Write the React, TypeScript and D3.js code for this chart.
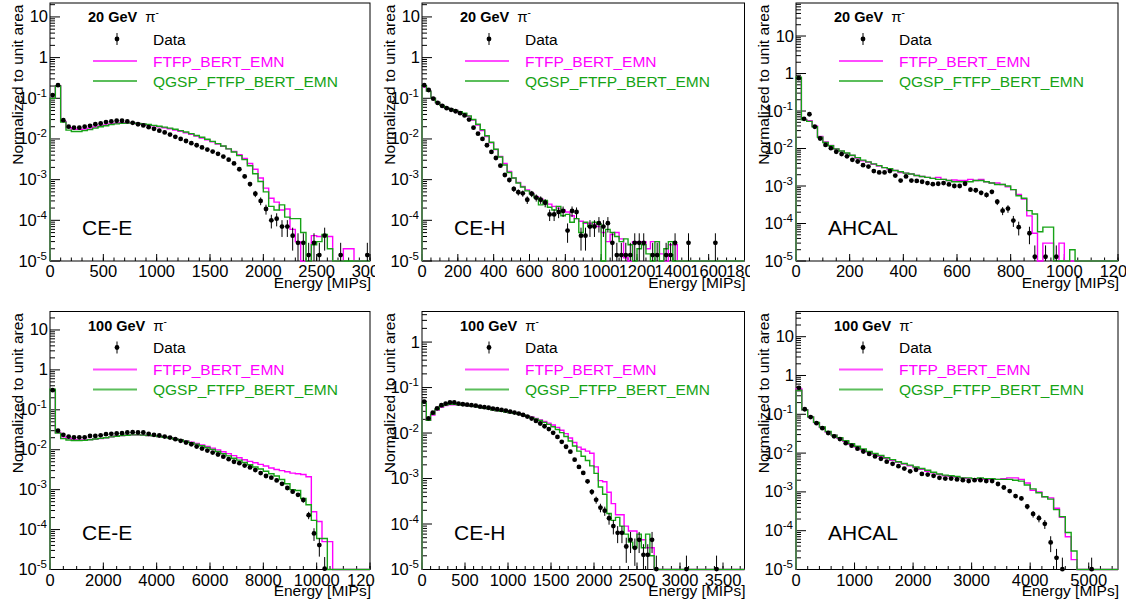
import React from "react";
import * as d3 from "d3";

// ---------------- data ----------------
// 20 GeV pi-, CE-E : bins of 50 MIPs starting at 0
const ceE20Data = [0.12, 0.21, 0.029, 0.020, 0.019, 0.019, 0.020, 0.021, 0.023, 0.024,
  0.026, 0.027, 0.028, 0.028, 0.027, 0.025, 0.023, 0.0215, 0.0195, 0.0178,
  0.016, 0.0145, 0.0128, 0.0113, 0.0100, 0.0089, 0.0079, 0.0070, 0.0062, 0.0055,
  0.0049, 0.0043, 0.0037, 0.0031, 0.0025, 0.0018, 0.0012, 0.00078, 0.00045, 0.00030,
  0.00019, 0.0001, 0.00011, 0.00007, 0.00007, 0.000042, 0.000028, 0.000028, 0.000014, 0.000028,
  0.000014, 0.000042, 0, 0, 0.000014, 0, 0, 0, 0, 0.000014];
const ceE20Err = [0, 0, 0, 0, 0, 0, 0, 0, 0, 0,
  0, 0, 0, 0, 0, 0, 0, 0, 0, 0,
  0, 0, 0, 0, 0, 0, 0, 0, 0, 0,
  0, 0, 0, 0, 0, 0, 0.00013, 0.000104, 0.000079, 0.000065,
  0.000052, 0.000037, 0.000039, 0.000031, 0.000031, 0.000024, 0.00002, 0.00002, 0.000014, 0.00002,
  0.000014, 0.000024, 0, 0, 0.000014, 0, 0, 0, 0, 0.000014];
const ceE20Ftfp = [0.10, 0.20, 0.027, 0.019, 0.0175, 0.0172, 0.0175, 0.0185, 0.0197, 0.021,
  0.0222, 0.0233, 0.0243, 0.025, 0.0252, 0.0248, 0.024, 0.023, 0.022, 0.021,
  0.020, 0.0189, 0.0178, 0.0166, 0.0154, 0.0142, 0.013, 0.0118, 0.0106, 0.0095,
  0.0085, 0.0075, 0.0066, 0.0057, 0.0049, 0.0041, 0.0033, 0.0025, 0.0018, 0.0011,
  0.00062, 0.00035, 0.00028, 0.00018, 0.00019, 0.00006, 0.00003, 0, 0, 0.000042,
  0.00004, 0.000042, 0.00004, 0, 0, 0.00002, 0.00002, 0, 0, 0];
const ceE20Qgsp = [0.10, 0.20, 0.026, 0.0165, 0.0153, 0.0153, 0.016, 0.017, 0.0185, 0.020,
  0.0212, 0.0225, 0.0235, 0.0242, 0.0245, 0.0245, 0.0242, 0.0235, 0.0226, 0.0216,
  0.0206, 0.0196, 0.0185, 0.0173, 0.016, 0.0148, 0.0135, 0.0122, 0.011, 0.0098,
  0.0087, 0.0077, 0.0067, 0.0057, 0.0048, 0.0039, 0.0031, 0.0022, 0.0014, 0.0009,
  0.0005, 0.00022, 0.00018, 0.00024, 0.00012, 0.00011, 0.00011, 0.00005, 0, 0.000025,
  0.00003, 0.000045, 0.00002, 0, 0, 0, 0, 0, 0, 0];

// 20 GeV pi-, CE-H : bins of 25 MIPs
const ceH20Data = [0.21, 0.16, 0.098, 0.077, 0.065, 0.057, 0.052, 0.048, 0.043, 0.038,
  0.030, 0.019, 0.0135, 0.0100, 0.0070, 0.0048, 0.0034, 0.0022, 0.0013, 0.00098,
  0.00059, 0.00049, 0.00046, 0.00032, 0.00045, 0.00036, 0.00032, 0.00027, 0.00014, 0.00014,
  0.00016, 0.00017, 0.000056, 0.00017, 0.00016, 0.000042, 0.000042, 0.00007, 0.00007, 0.000085,
  0.00007, 0.000085, 0.000028, 0.000014, 0.000014, 0.000014, 0.000014, 0.000028, 0.000028, 0.000028,
  0, 0.000014, 0.000014, 0, 0.000014, 0.000014, 0.000028, 0, 0, 0.000028,
  0, 0, 0, 0, 0, 0.000028, 0, 0, 0, 0,
  0, 0];
const ceH20Err = [0, 0, 0, 0, 0, 0, 0, 0, 0, 0,
  0, 0, 0, 0, 0, 0, 0, 0, 0.00013, 0.00012,
  0.00009, 0.000083, 0.00008, 0.000067, 0.000079, 0.000071, 0.000067, 0.000061, 0.000044, 0.000044,
  0.000047, 0.000049, 0.000028, 0.000049, 0.000047, 0.000024, 0.000024, 0.000031, 0.000031, 0.000035,
  0.000031, 0.000035, 0.00002, 0.000014, 0.000014, 0.000014, 0.000014, 0.00002, 0.00002, 0.00002,
  0, 0.000014, 0.000014, 0, 0.000014, 0.000014, 0.00002, 0, 0, 0.00002,
  0, 0, 0, 0, 0, 0.00002, 0, 0, 0, 0,
  0, 0];
const ceH20Ftfp = [0.19, 0.15, 0.10, 0.079, 0.067, 0.059, 0.054, 0.050, 0.046, 0.042,
  0.036, 0.029, 0.022, 0.016, 0.0115, 0.0080, 0.0055, 0.0037, 0.0025, 0.0016,
  0.0011, 0.00085, 0.00068, 0.00056, 0.00046, 0.00038, 0.00033, 0.00029, 0.00025, 0.00022,
  0.0002, 0.00018, 0.00016, 0.00013, 0.00011, 0.000095, 0.000085, 0.000085, 0.00008, 0.00007,
  0.00005, 0.00003, 0.000045, 0.00005, 0.000035, 0.000012, 0, 0.00003, 0.00003, 0.00003,
  0.00002, 0.00003, 0.00003, 0.000015, 0.00001, 0.000025, 0.000025, 0, 0, 0,
  0, 0, 0, 0, 0, 0, 0, 0, 0, 0,
  0, 0];
const ceH20Qgsp = [0.20, 0.15, 0.10, 0.079, 0.067, 0.059, 0.054, 0.050, 0.047, 0.043,
  0.037, 0.030, 0.023, 0.017, 0.012, 0.0083, 0.0056, 0.0036, 0.0023, 0.0015,
  0.0011, 0.00083, 0.00066, 0.00053, 0.00044, 0.00036, 0.00024, 0.00031, 0.00021, 0.00018,
  0.00022, 0.00013, 0.00014, 0.00009, 0.00011, 0.00005, 0.00009, 0.00007, 0.00009, 0.00008,
  0, 0.00006, 0.00005, 0.00004, 0.00003, 0.000035, 0.000025, 0, 0.00002, 0.000025,
  0.000015, 0, 0.00003, 0, 0.00002, 0.00003, 0, 0, 0, 0,
  0, 0, 0, 0, 0, 0, 0, 0, 0, 0,
  0, 0];

// 20 GeV pi-, AHCAL : bins of 20 MIPs
const ahcal20Data = [0.75, 0.062, 0.082, 0.038, 0.0185, 0.0125, 0.0102, 0.0082, 0.0071, 0.0062,
  0.0050, 0.0045, 0.0036, 0.0033, 0.0025, 0.0023, 0.0023, 0.0025, 0.0019, 0.0014,
  0.0018, 0.0014, 0.00137, 0.0013, 0.0012, 0.00112, 0.00115, 0.0012, 0.0011, 0.001,
  0.001, 0.00115, 0.0008, 0.00077, 0.00066, 0.00058, 0.0007, 0.00038, 0.00022, 0.00025,
  0.00012, 0.00008, 0, 0.000055, 0.000013, 0, 0.000013, 0, 0.000013, 0,
  0, 0, 0, 0, 0, 0, 0, 0, 0, 0];
const ahcal20Err = [0, 0, 0, 0, 0, 0, 0, 0, 0, 0,
  0, 0, 0, 0, 0, 0, 0, 0, 0, 0,
  0, 0, 0, 0, 0, 0, 0, 0, 0, 0,
  0.00011, 0.00012, 0.0001, 0.0001, 0.000093, 0.000087, 0.000095, 0.00007, 0.000053, 0.000057,
  0.000039, 0.000032, 0, 0.000027, 0.000013, 0, 0.000013, 0, 0.000013, 0,
  0, 0, 0, 0, 0, 0, 0, 0, 0, 0];
const ahcal20Ftfp = [0.75, 0.06, 0.055, 0.04, 0.021, 0.015, 0.012, 0.0098, 0.0085, 0.0074,
  0.0065, 0.0056, 0.0047, 0.0043, 0.0038, 0.0034, 0.0031, 0.0028, 0.0026, 0.0023,
  0.0022, 0.0021, 0.0019, 0.0018, 0.0017, 0.0016, 0.0017, 0.0015, 0.0014, 0.00145,
  0.0014, 0.0014, 0.0015, 0.0014, 0.0015, 0.0013, 0.0012, 0.0012, 0.0011, 0.00095,
  0.0008, 0.0006, 0.00045, 0.00016, 0.000055, 0, 0.00003, 0.00003, 0, 0.00003,
  0, 0, 0, 0, 0, 0, 0, 0, 0, 0];
const ahcal20Qgsp = [0.8, 0.058, 0.053, 0.038, 0.02, 0.0145, 0.0118, 0.0098, 0.0086, 0.0076,
  0.0066, 0.0057, 0.0049, 0.0044, 0.0039, 0.0035, 0.0031, 0.0029, 0.0026, 0.0024,
  0.0022, 0.0021, 0.0019, 0.0018, 0.0017, 0.0016, 0.0015, 0.0015, 0.0014, 0.0013,
  0.0013, 0.0013, 0.0013, 0.0014, 0.0014, 0.0013, 0.0012, 0.0011, 0.0011, 0.001,
  0.0008, 0.00055, 0.00047, 0.00022, 0.00018, 0.00006, 0.00008, 0.00008, 0, 0,
  0, 0.00002, 0, 0, 0, 0, 0, 0, 0, 0];

// 100 GeV pi-, CE-E : bins of 200 MIPs
const ceE100Data = [0.31, 0.030, 0.0236, 0.0214, 0.0205, 0.0205, 0.0205, 0.0222, 0.0222, 0.023,
  0.0245, 0.025, 0.0255, 0.026, 0.027, 0.0275, 0.027, 0.027, 0.025, 0.0236,
  0.0227, 0.0214, 0.0202, 0.0184, 0.0167, 0.0151, 0.0137, 0.012, 0.0107, 0.0095,
  0.0085, 0.0076, 0.0067, 0.0058, 0.005, 0.0046, 0.004, 0.0036, 0.0031, 0.0026,
  0.0022, 0.002, 0.0017, 0.0014, 0.0011, 0.00089, 0.00074, 0.00055, 0.00023, 0.00008,
  0.000041, 0.0000105, 0, 0, 0, 0, 0, 0, 0, 0];
const ceE100Err = [0, 0, 0, 0, 0, 0, 0, 0, 0, 0,
  0, 0, 0, 0, 0, 0, 0, 0, 0, 0,
  0, 0, 0, 0, 0, 0, 0, 0, 0, 0,
  0, 0, 0, 0, 0, 0, 0, 0, 0, 0,
  0, 0, 0, 0, 0.0001, 0.000094, 0.000086, 0.000074, 0.000048, 0.000028,
  0.00002, 0.00001, 0, 0, 0, 0, 0, 0, 0, 0];
const ceE100Ftfp = [0.30, 0.027, 0.021, 0.019, 0.018, 0.0175, 0.0175, 0.018, 0.0185, 0.019,
  0.020, 0.021, 0.022, 0.0225, 0.023, 0.0235, 0.0235, 0.0232, 0.0228, 0.0222,
  0.0215, 0.0207, 0.0198, 0.0188, 0.0178, 0.0167, 0.0155, 0.0143, 0.0132, 0.012,
  0.011, 0.0099, 0.0089, 0.008, 0.0071, 0.0063, 0.0056, 0.0051, 0.0047, 0.0043,
  0.0039, 0.0035, 0.0032, 0.003, 0.0028, 0.0026, 0.0025, 0.0024, 0.0021, 0.00028,
  0.00016, 0.00005, 0.00005, 0, 0, 0, 0, 0, 0, 0];
const ceE100Qgsp = [0.33, 0.026, 0.019, 0.0175, 0.017, 0.017, 0.0172, 0.0178, 0.0185, 0.0192,
  0.020, 0.021, 0.0218, 0.0225, 0.023, 0.0235, 0.0235, 0.0232, 0.0228, 0.0222,
  0.0215, 0.0206, 0.0196, 0.0186, 0.0175, 0.0163, 0.0151, 0.0138, 0.0126, 0.0114,
  0.0102, 0.009, 0.008, 0.007, 0.0061, 0.0055, 0.0048, 0.0042, 0.0037, 0.0033,
  0.0029, 0.0025, 0.0022, 0.0018, 0.0014, 0.001, 0.00095, 0.0006, 0.00042, 0.00017,
  0.00006, 0.00006, 0, 0, 0, 0, 0, 0, 0, 0];

// 100 GeV pi-, CE-H : bins of 50 MIPs
const ceH100Data = [0.049, 0.021, 0.028, 0.035, 0.041, 0.0445, 0.047, 0.047, 0.0445, 0.043,
  0.042, 0.041, 0.040, 0.038, 0.037, 0.036, 0.0345, 0.0335, 0.0323, 0.0312,
  0.0297, 0.0282, 0.0268, 0.025, 0.023, 0.0208, 0.0185, 0.0162, 0.0141, 0.0122,
  0.0101, 0.0082, 0.0064, 0.005, 0.0039, 0.0026, 0.0018, 0.00133, 0.00087, 0.00051,
  0.00034, 0.00023, 0.000196, 0.000134, 0.00009, 0.000064, 0.000064, 0.000032, 0.000045, 0.00003,
  0.000045, 0.000021, 0.000021, 0.000045, 0.0000102, 0, 0, 0, 0, 0,
  0, 0.0000102, 0, 0, 0, 0, 0, 0, 0.0000102, 0,
  0, 0, 0, 0, 0];
const ceH100Err = [0, 0, 0, 0, 0, 0, 0, 0, 0, 0,
  0, 0, 0, 0, 0, 0, 0, 0, 0, 0,
  0, 0, 0, 0, 0, 0, 0, 0, 0, 0,
  0, 0, 0, 0, 0, 0, 0, 0.000118, 0.000096, 0.000073,
  0.00006, 0.000049, 0.000045, 0.0000375, 0.000031, 0.000026, 0.000026, 0.000018, 0.000022, 0.000018,
  0.000022, 0.000015, 0.000015, 0.000022, 0.00001, 0, 0, 0, 0, 0,
  0, 0.00001, 0, 0, 0, 0, 0, 0, 0.00001, 0,
  0, 0, 0, 0, 0];
const ceH100Ftfp = [0.045, 0.019, 0.025, 0.032, 0.037, 0.040, 0.042, 0.042, 0.042, 0.041,
  0.040, 0.039, 0.038, 0.037, 0.035, 0.034, 0.032, 0.031, 0.030, 0.029,
  0.028, 0.027, 0.026, 0.025, 0.0238, 0.0225, 0.021, 0.0195, 0.018, 0.0165,
  0.015, 0.0133, 0.0115, 0.0097, 0.0078, 0.0062, 0.0049, 0.0044, 0.004, 0.0036,
  0.0018, 0.0009, 0.00085, 0.0005, 0.00028, 0.00016, 0.00016, 0.00009, 0.00007, 0.00007,
  0.000045, 0.000045, 0.00003, 0.00003, 0, 0, 0, 0.00001, 0, 0,
  0, 0, 0.00001, 0, 0, 0.00001, 0, 0, 0, 0,
  0, 0, 0, 0, 0];
const ceH100Qgsp = [0.046, 0.019, 0.026, 0.033, 0.038, 0.041, 0.043, 0.043, 0.042, 0.041,
  0.040, 0.039, 0.038, 0.037, 0.035, 0.034, 0.032, 0.031, 0.030, 0.029,
  0.028, 0.027, 0.026, 0.025, 0.0235, 0.022, 0.0205, 0.019, 0.0172, 0.0155,
  0.0138, 0.012, 0.0102, 0.0084, 0.0067, 0.0052, 0.004, 0.0031, 0.0025, 0.0019,
  0.0013, 0.00065, 0.00045, 0.00017, 0.00012, 0.00014, 0.00009, 0.00006, 0.00004, 0.00003,
  0.00006, 0.00003, 0.00006, 0.00002, 0, 0, 0, 0, 0, 0,
  0, 0, 0, 0, 0, 0, 0, 0, 0, 0,
  0, 0, 0, 0, 0];

// 100 GeV pi-, AHCAL : bins of 100 MIPs
const ahcal100Data = [0.48, 0.135, 0.085, 0.059, 0.044, 0.033, 0.027, 0.023, 0.018, 0.0155,
  0.013, 0.011, 0.0095, 0.0082, 0.0071, 0.006, 0.0053, 0.0046, 0.0040, 0.0034,
  0.0037, 0.0029, 0.0028, 0.0026, 0.0023, 0.0022, 0.0022, 0.0021, 0.0020, 0.0019,
  0.0020, 0.0020, 0.0019, 0.0019, 0.0016, 0.0013, 0.00105, 0.00078, 0.00068, 0.00042,
  0.00027, 0.00021, 0.00015, 0.00005, 0.00002, 0.0000102, 0, 0, 0, 0,
  0.0000102, 0, 0, 0, 0];
const ahcal100Err = [0, 0, 0, 0, 0, 0, 0, 0, 0, 0,
  0, 0, 0, 0, 0, 0, 0, 0, 0, 0,
  0, 0, 0, 0, 0, 0, 0, 0, 0, 0,
  0, 0, 0, 0, 0.000126, 0.000114, 0.000102, 0.000088, 0.000082, 0.000065,
  0.000052, 0.000046, 0.000039, 0.000022, 0.000014, 0.00001, 0, 0, 0, 0,
  0.00001, 0, 0, 0, 0];
const ahcal100Ftfp = [0.45, 0.13, 0.085, 0.061, 0.046, 0.035, 0.029, 0.024, 0.020, 0.0168,
  0.0143, 0.0122, 0.0107, 0.0094, 0.0083, 0.0073, 0.0065, 0.0058, 0.0052, 0.0047,
  0.0042, 0.0038, 0.0034, 0.0031, 0.0028, 0.0026, 0.0025, 0.0024, 0.0023, 0.0022,
  0.0022, 0.0021, 0.0021, 0.0021, 0.0021, 0.0022, 0.0023, 0.0023, 0.0021, 0.0017,
  0.0011, 0.001, 0.00075, 0.0007, 0.00038, 0.00022, 0.00007, 0.000018, 0, 0,
  0, 0, 0, 0, 0];
const ahcal100Qgsp = [0.42, 0.13, 0.086, 0.062, 0.047, 0.036, 0.029, 0.025, 0.021, 0.0175,
  0.015, 0.0128, 0.011, 0.0098, 0.0087, 0.0076, 0.0068, 0.006, 0.0054, 0.0049,
  0.0044, 0.004, 0.0036, 0.0032, 0.0029, 0.0027, 0.0026, 0.0025, 0.0023, 0.0023,
  0.0022, 0.0023, 0.0022, 0.0022, 0.0021, 0.0021, 0.0021, 0.002, 0.0019, 0.0015,
  0.0012, 0.00095, 0.00075, 0.00065, 0.00035, 0.00023, 0.00009, 0.00003, 0, 0,
  0, 0, 0, 0, 0];

// text
const legendLabels = ["Data", "FTFP_BERT_EMN", "QGSP_FTFP_BERT_EMN"];
const beamEnergies = ["20 GeV", "100 GeV"];
const detectorNames = ["CE-E", "CE-H", "AHCAL"];
const xAxisTitle = "Energy [MIPs]";
const yAxisTitle = "Normalized to unit area";

// ---------------- layout / style ----------------
const W = 1126;
const H = 606;
const FONT = "'Liberation Sans', Arial, Helvetica, sans-serif";
const MAGENTA = "#ff00ff";
const GREEN = "#16a316";
const COL_LEFT = [50, 422, 796];
const COL_RIGHT = [370, 744.5, 1118];
const ROW_TOP = [3, 311.5];
const ROW_BOTTOM = [261, 569.5];
const ROW_DET_BASE = [235, 539.5];

type Cfg = {
  row: number; col: number; xmax: number; binW: number; ymax: number;
  xMajor: number; xSub: number;
  data: number[]; err: number[]; ftfp: number[]; qgsp: number[];
};

const panels: Cfg[] = [
  { row: 0, col: 0, xmax: 3000, binW: 50, ymax: 22, xMajor: 500, xSub: 5, data: ceE20Data, err: ceE20Err, ftfp: ceE20Ftfp, qgsp: ceE20Qgsp },
  { row: 0, col: 1, xmax: 1800, binW: 25, ymax: 22, xMajor: 200, xSub: 4, data: ceH20Data, err: ceH20Err, ftfp: ceH20Ftfp, qgsp: ceH20Qgsp },
  { row: 0, col: 2, xmax: 1200, binW: 20, ymax: 76, xMajor: 200, xSub: 4, data: ahcal20Data, err: ahcal20Err, ftfp: ahcal20Ftfp, qgsp: ahcal20Qgsp },
  { row: 1, col: 0, xmax: 12000, binW: 200, ymax: 29, xMajor: 2000, xSub: 4, data: ceE100Data, err: ceE100Err, ftfp: ceE100Ftfp, qgsp: ceE100Qgsp },
  { row: 1, col: 1, xmax: 3750, binW: 50, ymax: 4.7, xMajor: 500, xSub: 5, data: ceH100Data, err: ceH100Err, ftfp: ceH100Ftfp, qgsp: ceH100Qgsp },
  { row: 1, col: 2, xmax: 5500, binW: 100, ymax: 44.6, xMajor: 1000, xSub: 5, data: ahcal100Data, err: ahcal100Err, ftfp: ahcal100Ftfp, qgsp: ahcal100Qgsp },
];

const YMIN = 1e-5;

function Panel({ cfg, idx }: { cfg: Cfg; idx: number }) {
  const L = COL_LEFT[cfg.col];
  const R = COL_RIGHT[cfg.col];
  const T = ROW_TOP[cfg.row];
  const B = ROW_BOTTOM[cfg.row];
  const x = d3.scaleLinear().domain([0, cfg.xmax]).range([L, R]);
  const y = d3.scaleLog().domain([YMIN, cfg.ymax]).range([B, T]).clamp(true);
  const yv = (v: number) => (v > 0 ? y(v) : B);

  const hist = (vals: number[]) => {
    const p = d3.path();
    p.moveTo(x(0), B);
    vals.forEach((v, i) => {
      const yy = yv(v);
      p.lineTo(x(i * cfg.binW), yy);
      p.lineTo(x(Math.min((i + 1) * cfg.binW, cfg.xmax)), yy);
    });
    p.lineTo(x(Math.min(vals.length * cfg.binW, cfg.xmax)), B);
    return p.toString();
  };

  const nMaj = Math.round(cfg.xmax / cfg.xMajor + 1e-9);
  const xMajors = d3.range(0, nMaj + 1).map((i) => i * cfg.xMajor).filter((v) => v <= cfg.xmax + 1e-9);
  const minorStep = cfg.xMajor / cfg.xSub;
  const nMin = Math.floor(cfg.xmax / minorStep + 1e-9);
  const xMinors = d3.range(0, nMin + 1).map((i) => i * minorStep);

  const kMax = Math.floor(Math.log10(cfg.ymax) + 1e-9);
  const decades = d3.range(-5, kMax + 1);
  const yMinors: number[] = [];
  decades.forEach((k) => {
    for (let m = 2; m <= 9; m++) {
      const v = m * Math.pow(10, k);
      if (v <= cfg.ymax) yMinors.push(v);
    }
  });

  const clipX0 = cfg.col * 375;
  const clipX1 = cfg.col === 2 ? W : (cfg.col + 1) * 375;
  const clipY0 = cfg.row === 0 ? 0 : 303;
  const clipY1 = cfg.row === 0 ? 303 : H;
  const clipId = `clip-${idx}`;

  const fs = 15.5;
  const tfs = 16.5;

  return (
    <g clipPath={`url(#${clipId})`} fontFamily={FONT}>
      <defs>
        <clipPath id={clipId}>
          <rect x={clipX0} y={clipY0} width={clipX1 - clipX0} height={clipY1 - clipY0} />
        </clipPath>
      </defs>
      {/* frame */}
      <rect x={L} y={T} width={R - L} height={B - T} fill="none" stroke="#000" strokeWidth={1} />
      {/* x ticks */}
      {xMinors.map((v, i) => (
        <line key={`xm${i}`} x1={x(v)} x2={x(v)} y1={B} y2={B - 3.5} stroke="#000" strokeWidth={1} />
      ))}
      {xMajors.map((v, i) => (
        <line key={`xM${i}`} x1={x(v)} x2={x(v)} y1={B} y2={B - 7} stroke="#000" strokeWidth={1} />
      ))}
      {xMajors.map((v, i) => (
        <text key={`xl${i}`} x={x(v)} y={B + 16} fontSize={tfs} textAnchor="middle" fill="#000">
          {String(v)}
        </text>
      ))}
      {/* y ticks */}
      {yMinors.map((v, i) => (
        <line key={`ym${i}`} x1={L} x2={L + 5} y1={y(v)} y2={y(v)} stroke="#000" strokeWidth={1} />
      ))}
      {decades.map((k) => (
        <line key={`yM${k}`} x1={L} x2={L + 10} y1={y(Math.pow(10, k))} y2={y(Math.pow(10, k))} stroke="#000" strokeWidth={1} />
      ))}
      {decades.map((k) => {
        const yy = y(Math.pow(10, k)) + 5.5;
        if (k < 0) {
          return (
            <text key={`yl${k}`} x={L - 3} y={yy} fontSize={tfs} textAnchor="end" fill="#000">
              <tspan>10</tspan>
              <tspan dy={-7} fontSize={11.5}>{String(k)}</tspan>
            </text>
          );
        }
        return (
          <text key={`yl${k}`} x={L - 2} y={yy} fontSize={tfs} textAnchor="end" fill="#000">
            {String(Math.pow(10, k))}
          </text>
        );
      })}
      {/* axis titles */}
      <text x={R + 1} y={B + 26.5} fontSize={fs} textAnchor="end" fill="#000">{xAxisTitle}</text>
      <text transform={`translate(${L - 27},${T + 1.5}) rotate(-90)`} fontSize={fs} textAnchor="end" fill="#000">
        {yAxisTitle}
      </text>
      {/* histograms */}
      <path d={hist(cfg.ftfp)} fill="none" stroke={MAGENTA} strokeWidth={1.4} />
      <path d={hist(cfg.qgsp)} fill="none" stroke={GREEN} strokeWidth={1.4} />
      {/* data */}
      {cfg.data.map((v, i) => {
        if (!(v >= YMIN)) return null;
        const e = cfg.err[i] || 0;
        const cx = x((i + 0.5) * cfg.binW);
        return (
          <g key={`d${i}`}>
            {e > 0 && (
              <line x1={cx} x2={cx} y1={v - e > YMIN ? y(v - e) : B} y2={y(v + e)} stroke="#000" strokeWidth={1} />
            )}
            <circle cx={cx} cy={y(v)} r={2.4} fill="#000" />
          </g>
        );
      })}
      {/* legend */}
      <text x={L + 38} y={T + 19} fontSize={14.5} fill="#000">
        <tspan fontWeight="bold">{beamEnergies[cfg.row]}</tspan>
        <tspan dx={8} fontSize={15}>π</tspan>
        <tspan dy={-6} fontSize={10}>-</tspan>
      </text>
      <line x1={L + 67} x2={L + 67} y1={T + 30} y2={T + 42} stroke="#000" strokeWidth={1} />
      <circle cx={L + 67} cy={T + 36} r={2.4} fill="#000" />
      <text x={L + 103} y={T + 41.5} fontSize={fs} fill="#000">{legendLabels[0]}</text>
      <line x1={L + 43} x2={L + 87} y1={T + 58} y2={T + 58} stroke={MAGENTA} strokeWidth={2} opacity={0.7} />
      <text x={L + 103} y={T + 63.5} fontSize={fs} fill={MAGENTA}>{legendLabels[1]}</text>
      <line x1={L + 43} x2={L + 87} y1={T + 78} y2={T + 78} stroke={GREEN} strokeWidth={2} opacity={0.7} />
      <text x={L + 103} y={T + 83.5} fontSize={fs} fill={GREEN}>{legendLabels[2]}</text>
      {/* detector name */}
      <text x={L + 32} y={ROW_DET_BASE[cfg.row]} fontSize={21} fill="#000">{detectorNames[cfg.col]}</text>
    </g>
  );
}

export default function App() {
  return (
    <div style={{ width: W, height: H, background: "#fff" }}>
      <style>{`body{margin:0;background:#fff}`}</style>
      <svg width={W} height={H} viewBox={`0 0 ${W} ${H}`} style={{ display: "block" }}>
        <rect x={0} y={0} width={W} height={H} fill="#fff" />
        {panels.map((c, i) => (
          <Panel key={i} cfg={c} idx={i} />
        ))}
      </svg>
    </div>
  );
}
